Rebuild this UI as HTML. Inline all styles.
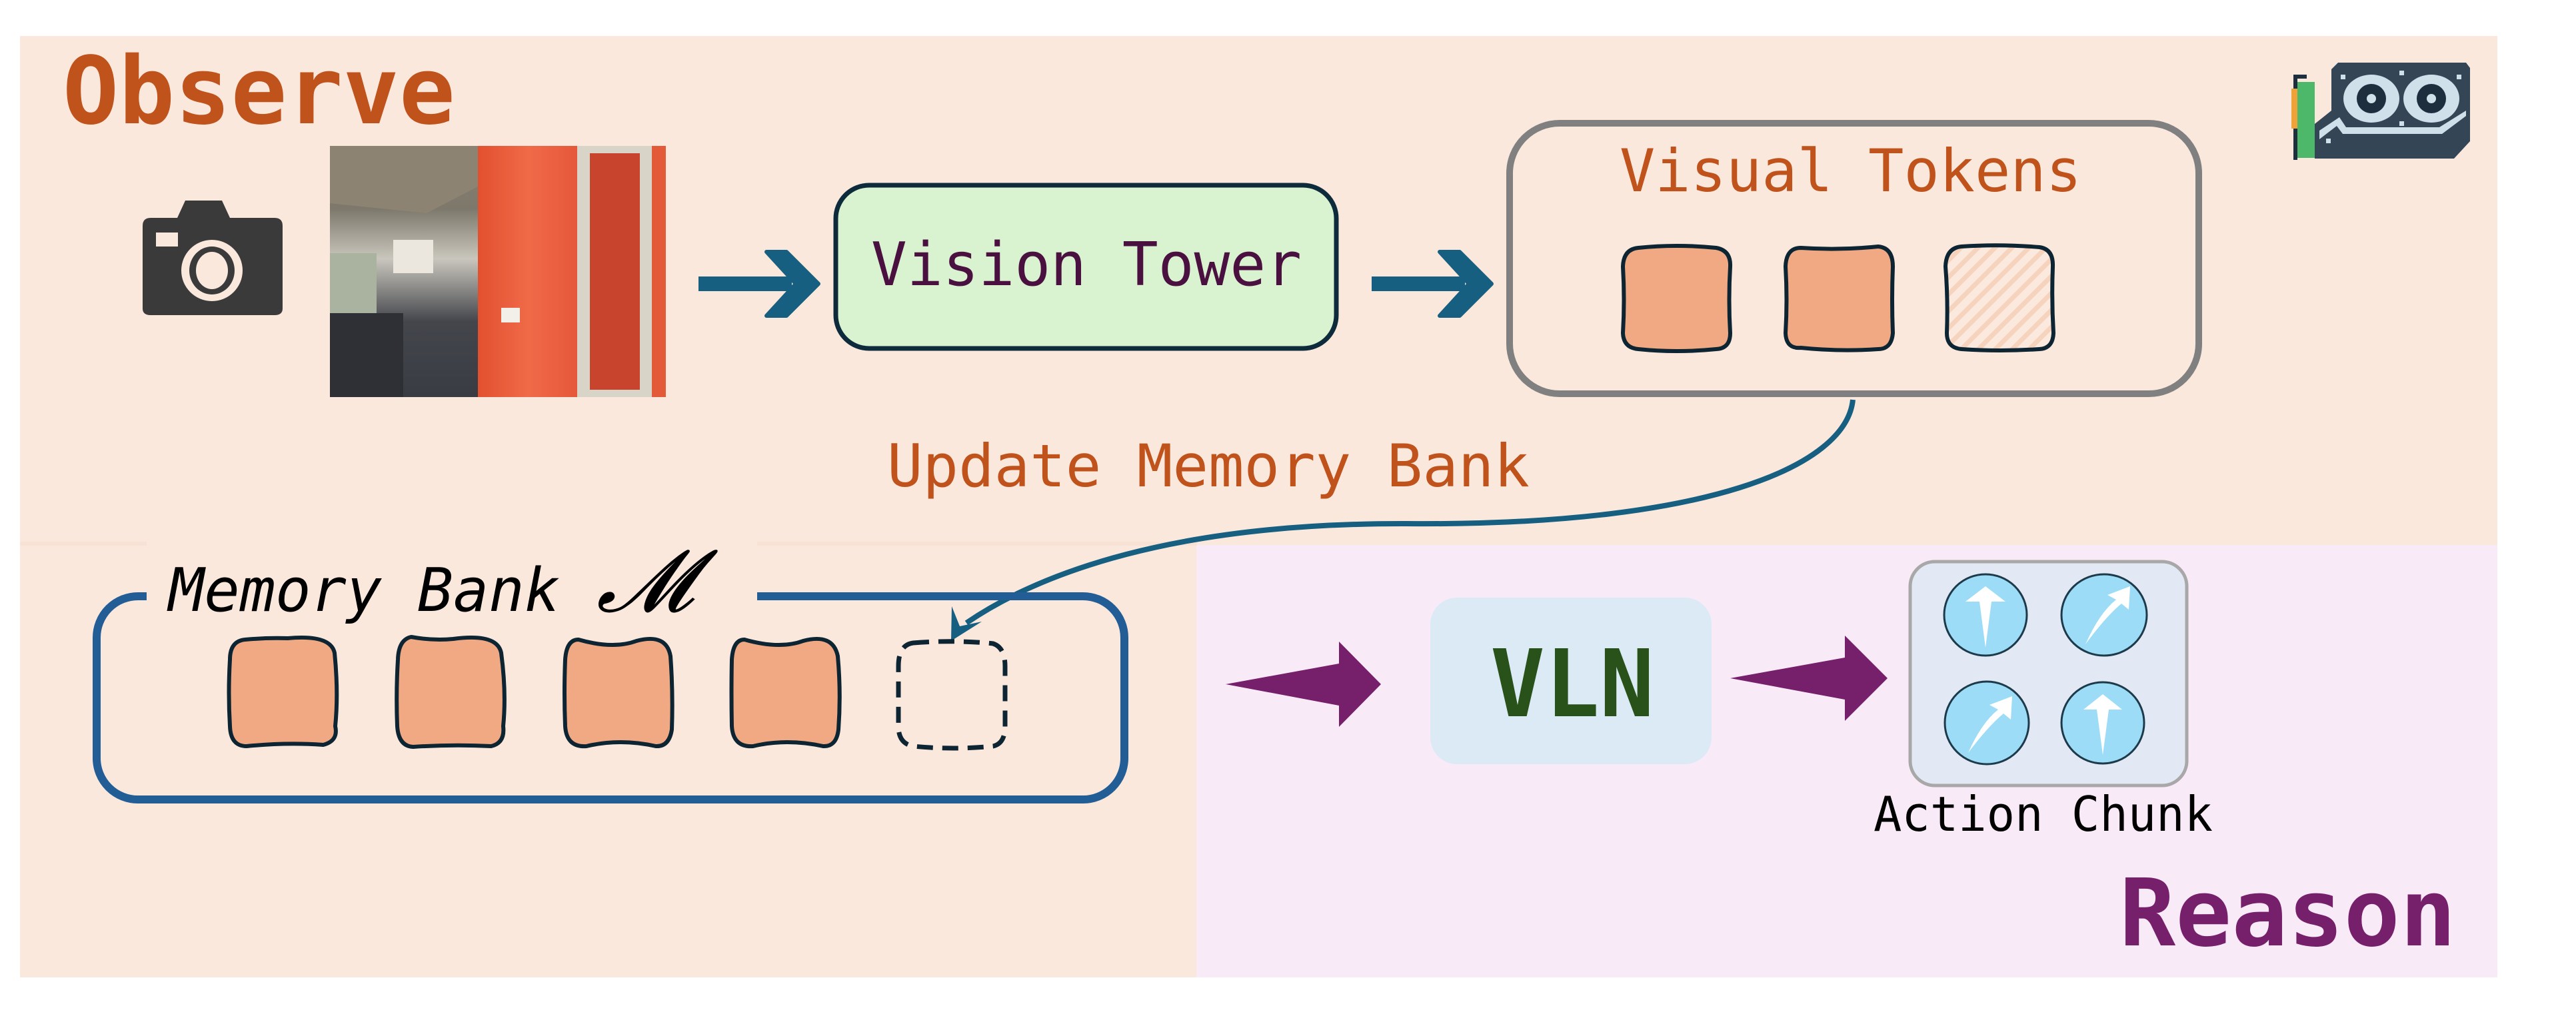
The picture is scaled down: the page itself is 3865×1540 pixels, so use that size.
<!DOCTYPE html>
<html><head><meta charset="utf-8"><style>
html,body{margin:0;padding:0;background:#fff;}
svg{display:block;}
</style></head><body>
<svg width="3865" height="1540" viewBox="0 0 3865 1540" xmlns="http://www.w3.org/2000/svg">
<defs>
<pattern id="hatch" width="18" height="18" patternUnits="userSpaceOnUse" patternTransform="rotate(45)">
<rect width="18" height="18" fill="#fbe9de"/>
<rect width="7" height="18" fill="#f6d3bd"/>
</pattern>
<linearGradient id="room" x1="0" y1="0" x2="0" y2="1">
<stop offset="0" stop-color="#8a8270"/><stop offset="0.25" stop-color="#7d786b"/>
<stop offset="0.45" stop-color="#c9c6bd"/><stop offset="0.7" stop-color="#44464c"/><stop offset="1" stop-color="#3a3c44"/>
</linearGradient>
<linearGradient id="orng" x1="0" y1="0" x2="1" y2="0">
<stop offset="0" stop-color="#e2502f"/><stop offset="0.5" stop-color="#f06a48"/><stop offset="1" stop-color="#e5583a"/>
</linearGradient>
</defs>
<rect x="30" y="54" width="3717" height="1413" fill="#fae8dd"/>
<rect x="1795" y="818" width="1952" height="649" fill="#f9eaf8"/>
<rect x="30" y="813" width="190" height="6" fill="#f8e2d6"/>
<rect x="1136" y="813" width="660" height="6" fill="#f8e2d6"/>

<text x="94" y="185" font-family="DejaVu Sans Mono, Liberation Mono, monospace" font-weight="bold" font-size="140" fill="#c0521b" textLength="589" lengthAdjust="spacingAndGlyphs">Observe</text>

<path d="M278 301 L333 301 L345 327 L412 327 Q424 327 424 339 L424 463 Q424 473 412 473 L226 473 Q214 473 214 463 L214 339 Q214 327 226 327 L266 327 Z" fill="#3a3a3a"/>
<rect x="234" y="349" width="33" height="21" fill="#fae8dd"/>
<ellipse cx="318" cy="406" rx="46" ry="46" fill="#fae8dd"/>
<ellipse cx="318" cy="406" rx="34" ry="36" fill="#3a3a3a"/>
<ellipse cx="318" cy="406" rx="24" ry="28" fill="#fae8dd"/>

<rect x="495" y="219" width="222" height="377" fill="url(#room)"/>
<polygon points="495,219 717,219 717,280 640,320 495,305" fill="#8c8373"/>
<rect x="495" y="380" width="70" height="110" fill="#a9b39f"/>
<rect x="590" y="360" width="60" height="50" fill="#ebe7df"/>
<rect x="495" y="470" width="110" height="126" fill="#2f3036"/>
<rect x="717" y="219" width="150" height="377" fill="url(#orng)"/>
<rect x="866" y="219" width="112" height="377" fill="#d8d4c8"/>
<rect x="885" y="230" width="75" height="355" fill="#c8442c"/>
<rect x="978" y="219" width="21" height="377" fill="#e25a38"/>
<rect x="752" y="462" width="28" height="22" fill="#f3f0ea"/>

<g fill="#165f80">
<rect x="1048" y="415" width="140" height="22"/>
<path d="M1150 378 L1180 378 L1228 426 L1180 474 L1150 474 L1194 426 Z" stroke="#165f80" stroke-width="6" stroke-linejoin="round"/>
<rect x="2058" y="415" width="140" height="22"/>
<path d="M2160 378 L2190 378 L2238 426 L2190 474 L2160 474 L2204 426 Z" stroke="#165f80" stroke-width="6" stroke-linejoin="round"/>
</g>

<rect x="1254" y="278" width="751" height="245" rx="50" fill="#d9f2d0" stroke="#0d2b3a" stroke-width="7"/>
<text x="1630" y="428" text-anchor="middle" font-family="DejaVu Sans Mono, Liberation Mono, monospace" font-size="90" fill="#4a1040" textLength="646" lengthAdjust="spacingAndGlyphs">Vision Tower</text>

<rect x="2265" y="185" width="1034" height="406" rx="75" fill="#fae8dd" stroke="#808080" stroke-width="10"/>
<text x="2430" y="287" font-family="DejaVu Sans Mono, Liberation Mono, monospace" font-size="88" fill="#c0521b" textLength="693" lengthAdjust="spacingAndGlyphs">Visual Tokens</text>
<g stroke="#0d2433" stroke-width="6">
<path d="M2458 372 Q2515 366 2575 372 Q2597 376 2596 400 Q2593 450 2596 500 Q2596 523 2575 524 Q2515 530 2458 524 Q2436 522 2435 500 Q2438 450 2435 400 Q2436 374 2458 372 Z" fill="#f0a982"/>
<path d="M2702 372 Q2760 376 2818 370 Q2840 372 2840 400 Q2838 450 2840 500 Q2838 524 2818 524 Q2760 528 2702 522 Q2680 524 2679 500 Q2682 450 2679 400 Q2680 372 2702 372 Z" fill="#f0a982"/>
<path d="M2943 370 Q3000 366 3060 371 Q3081 374 3080 400 Q3078 450 3081 500 Q3080 523 3060 524 Q3000 528 2943 524 Q2921 522 2921 500 Q2923 450 2919 400 Q2920 372 2943 370 Z" fill="url(#hatch)"/>
</g>

<g>
<rect x="3441" y="112" width="6" height="128" fill="#1d2f3e"/>
<rect x="3441" y="112" width="20" height="6" fill="#1d2f3e"/>
<rect x="3438" y="133" width="12" height="60" fill="#f0a23a"/>
<rect x="3447" y="123" width="26" height="114" fill="#4db86a"/>
<path d="M3498 104 L3508 94 L3700 94 L3706 102 L3706 212 L3682 238 L3473 238 L3473 186 L3498 166 Z" fill="#344656"/>
<path d="M3480 196 L3510 176 L3520 191 L3660 191 L3700 166 L3700 174 L3664 201 L3515 201 L3506 189 L3480 209 Z" fill="#cfe0ea"/>
<ellipse cx="3558" cy="148" rx="42" ry="36" fill="#cfe0ea"/>
<ellipse cx="3648" cy="148" rx="42" ry="36" fill="#cfe0ea"/>
<circle cx="3558" cy="148" r="22" fill="#1d2f3e"/>
<circle cx="3648" cy="148" r="22" fill="#1d2f3e"/>
<circle cx="3558" cy="148" r="7" fill="#cfe0ea"/>
<circle cx="3648" cy="148" r="7" fill="#cfe0ea"/>
<rect x="3512" y="112" width="7" height="7" fill="#cfe0ea"/><rect x="3600" y="106" width="7" height="7" fill="#cfe0ea"/><rect x="3686" y="112" width="7" height="7" fill="#cfe0ea"/><rect x="3600" y="182" width="7" height="7" fill="#cfe0ea"/><rect x="3490" y="208" width="7" height="7" fill="#cfe0ea"/>
</g>

<text x="1331" y="730" font-family="DejaVu Sans Mono, Liberation Mono, monospace" font-size="88" fill="#c0521b" textLength="964" lengthAdjust="spacingAndGlyphs">Update Memory Bank</text>
<path d="M2780 600 C2770 700 2560 790 2110 786 C1760 785 1560 860 1450 935" fill="none" stroke="#165f80" stroke-width="8"/>
<polygon points="1427,962 1428,910 1440,940 1473,933" fill="#165f80"/>

<rect x="145" y="895" width="1542" height="305" rx="62" fill="none" stroke="#225d96" stroke-width="12"/>
<rect x="220" y="840" width="916" height="80" fill="#fae8dd"/>
<text x="253" y="917" font-family="DejaVu Sans Mono, Liberation Mono, monospace" font-style="italic" font-size="90" fill="#000" textLength="587" lengthAdjust="spacingAndGlyphs">Memory Bank</text>
<text x="895" y="917" font-family="DejaVu Serif, Liberation Serif, serif" font-style="italic" font-size="130" fill="#000">𝓜</text>
<g stroke="#0d2433" stroke-width="6" fill="#f0a982">
<path d="M368 960 Q400 957 432 958 Q496 952 502 980 Q508 1040 503 1090 Q508 1112 485 1118 Q430 1114 370 1120 Q346 1120 345 1090 Q342 1040 345 990 Q345 962 368 960 Z"/>
<path d="M617 956 Q650 962 680 959 Q746 950 752 980 Q760 1040 755 1090 Q758 1115 737 1120 Q680 1117 620 1121 Q598 1120 596 1090 Q594 1040 597 990 Q598 960 617 956 Z"/>
<path d="M868 960 Q920 975 955 962 Q1000 950 1006 985 Q1010 1040 1008 1095 Q1004 1121 984 1120 Q930 1108 880 1120 Q850 1122 848 1090 Q846 1040 848 990 Q850 960 868 960 Z"/>
<path d="M1117 960 Q1170 975 1205 962 Q1250 950 1257 985 Q1262 1040 1258 1095 Q1255 1121 1235 1120 Q1180 1108 1130 1120 Q1100 1122 1098 1090 Q1097 1040 1098 990 Q1100 960 1117 960 Z"/>
</g>
<path d="M1370 965 Q1430 960 1490 966 Q1508 972 1508 1000 L1508 1090 Q1508 1116 1490 1120 Q1430 1126 1370 1120 Q1348 1116 1348 1090 L1348 1000 Q1348 968 1370 965 Z" fill="none" stroke="#0d2433" stroke-width="7" stroke-dasharray="24 14"/>

<polygon points="1839,1027 2009,996 2009,963 2072,1027 2009,1091 2009,1059" fill="#761f6b"/>
<polygon points="2596,1018 2768,987 2768,954 2832,1018 2768,1082 2768,1050" fill="#761f6b"/>

<rect x="2146" y="897" width="422" height="250" rx="40" fill="#dceaf6"/>
<text x="2236" y="1075" font-family="DejaVu Sans Mono, Liberation Mono, monospace" font-weight="bold" font-size="140" fill="#28521a" textLength="246" lengthAdjust="spacingAndGlyphs">VLN</text>

<rect x="2866" y="843" width="415" height="336" rx="37" fill="#e3e9f4" stroke="#a8a8a8" stroke-width="5"/>
<g fill="#9ddcf6" stroke="#1d3a4a" stroke-width="3">
<ellipse cx="2979" cy="923" rx="62" ry="61"/>
<ellipse cx="3157" cy="923" rx="64" ry="61"/>
<ellipse cx="2981" cy="1085" rx="63" ry="62"/>
<ellipse cx="3155" cy="1085" rx="62" ry="61"/>
</g>
<g fill="#ffffff">
<polygon points="2979,880 3009,903 2988,903 2979,972 2970,903 2949,903"/>
<polygon points="3155,1042 3184,1065 3164,1065 3155,1133 3146,1065 3126,1065"/>
<path d="M3129 967 Q3150 920 3175 900 L3162 893 L3196 880 L3194 915 L3183 906 Q3160 925 3129 967 Z"/>
<path d="M2953 1130 Q2973 1085 2998 1065 L2985 1058 L3019 1045 L3017 1080 L3006 1071 Q2983 1090 2953 1130 Z"/>
</g>
<text x="2811" y="1247" font-family="DejaVu Sans Mono, Liberation Mono, monospace" font-size="72" fill="#000" textLength="509" lengthAdjust="spacingAndGlyphs">Action Chunk</text>

<text x="3180" y="1419" font-family="DejaVu Sans Mono, Liberation Mono, monospace" font-weight="bold" font-size="140" fill="#761f6b" textLength="505" lengthAdjust="spacingAndGlyphs">Reason</text>
</svg>
</body></html>
